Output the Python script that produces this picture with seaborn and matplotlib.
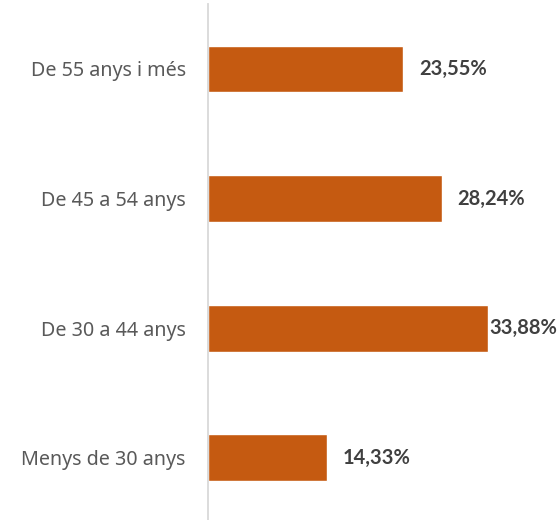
import seaborn as sns
import matplotlib.pyplot as plt
import pandas as pd

categories = ["De 55 anys i més", "De 45 a 54 anys", "De 30 a 44 anys", "Menys de 30 anys"]
values = [23.55, 28.24, 33.88, 14.33]
value_labels = ["23,55%", "28,24%", "33,88%", "14,33%"]

df = pd.DataFrame({"grup": categories, "pct": values})

sns.set_theme(style="white")
plt.rcParams['font.family'] = ['Noto Sans', 'DejaVu Sans']

fig = plt.figure(figsize=(5.6, 5.2), dpi=100)
ax = fig.add_axes([208 / 560, -0.005, 1 - 208 / 560 - 0.02, 0.997])

sns.barplot(data=df, x="pct", y="grup", color="#C55A11", saturation=1,
            width=0.36, ax=ax)

xmax = 41.2
for i, (v, lab) in enumerate(zip(values, value_labels)):
    # the longest bar gets its label pushed against the bar end, like Excel does
    off = 1 if v > 0.8 * xmax else 11.5
    ax.annotate(lab, xy=(v, i), xytext=(off, 0), textcoords="offset points",
                ha="left", va="center", fontsize=14.5, fontweight="bold",
                family=["Lato", "DejaVu Sans"], color="#404040")

ax.set_xlim(0, xmax)
ax.set_ylim(3.5, -0.5)
ax.set_xlabel("")
ax.set_ylabel("")
ax.set_xticks([])
ax.tick_params(axis="y", length=0, pad=16, labelsize=14.2, labelcolor="#595959")
for s in ["top", "right", "bottom"]:
    ax.spines[s].set_visible(False)
ax.spines["left"].set_color("#D9D9D9")
ax.spines["left"].set_linewidth(1.3)

fig.savefig("out.png", dpi=100)
